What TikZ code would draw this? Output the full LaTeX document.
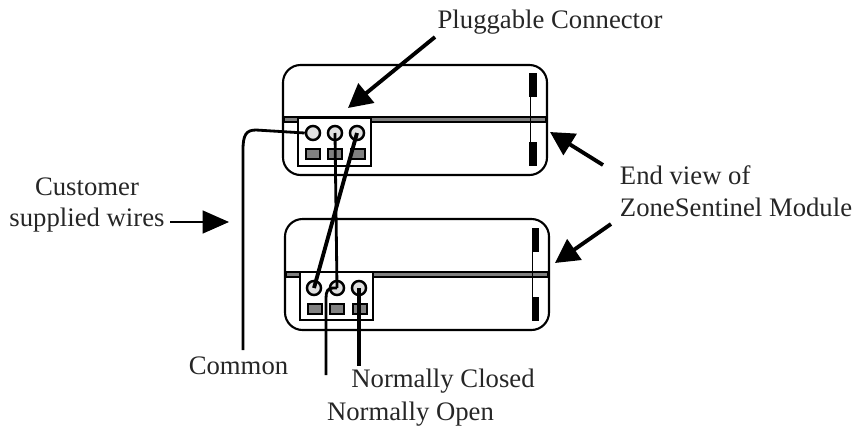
\documentclass[tikz,border=0pt]{standalone}
\usepackage{fontspec}
\setmainfont{Liberation Serif}
\usetikzlibrary{arrows.meta}
\tikzset{
	label/.style={font=\fontsize{15.2}{18.2}\selectfont,align=center,inner sep=0pt,text=black!85},
	pointer/.style={line width=2.2pt,-{Triangle[length=13.5pt,width=14pt]}},
	wire/.style={line width=1.6pt},
	heavywire/.style={line width=2.2pt},
	pin/.style={circle,draw,line width=1.4pt,fill=black!12,minimum size=8pt,inner sep=0pt},
	slot/.style={draw,line width=0.7pt,fill=black!50},
	bar/.style={fill=black}
}
\begin{document}
\begin{tikzpicture}[x=0.02cm,y=-0.02cm]
	\useasboundingbox (0,0) rectangle (854,426);

	% upper module
	\draw[line width=1.2pt,rounded corners=10pt] (283,65) rectangle (547,175);
	\draw[line width=1.1pt,fill=black!50] (284,117) rectangle (546,122);
	\draw[line width=0.4pt] (530,73) -- (530,166);
	\fill[bar] (529,73) rectangle (537,97);
	\fill[bar] (529,142) rectangle (537,166);
	\draw[line width=0.7pt,fill=white] (298,118) rectangle (371,166);
	\foreach \x/\name in {313/a,335/b,357/c}{
		\node[pin] (up\name) at (\x,133) {};
	}
	\foreach \x in {306,328,351}{
		\draw[slot] (\x,149) rectangle ++(14,10);
	}

	% lower module
	\draw[line width=1.2pt,rounded corners=10pt] (285,219) rectangle (549,330);
	\draw[line width=1.1pt,fill=black!50] (286,272) rectangle (548,277);
	\draw[line width=0.4pt] (532,228) -- (532,321);
	\fill[bar] (532,228) rectangle (539,252);
	\fill[bar] (532,297) rectangle (539,321);
	\draw[line width=0.7pt,fill=white] (300,272) rectangle (373,320);
	\foreach \x/\name in {314/a,337/b,359/c}{
		\node[pin] (lo\name) at (\x,288) {};
	}
	\foreach \x in {308,330,353}{
		\draw[slot] (\x,304) rectangle ++(14,10);
	}

	% wires
	\coordinate (common) at (243,350);
	\coordinate (open) at (326,375);
	\coordinate (closed) at (359,366);
	\draw[wire] (upa.west) -- (256,130) .. controls (246,130) and (243,135) .. (243,150) -- (common);
	\draw[wire] (upb.center) -- (lob.center);
	\draw[heavywire] (upc.center) -- (loa.center);
	\draw[wire] (lob.center) -- (333,288) .. controls (328,288) and (326,291) .. (326,298) -- (open);
	\draw[heavywire] (loc.center) -- (closed);

	% labels
	\node[label] (plug) at (550,22) {Pluggable Connector};
	\node[label,align=left] (endview) at (736,191) {End view of\\ZoneSentinel Module};
	\node[label] (cust) at (87,205) {Customer\\supplied wires};
	\node[label] (comm) at (238.5,366) {Common};
	\node[label] (nclosed) at (443,381) {Normally Closed};
	\node[label] (nopen) at (410.5,414) {Normally Open};

	% pointers
	\coordinate (plugtip) at (348,108);
	\coordinate (endtipa) at (550,132);
	\coordinate (endtipb) at (555,263);
	\coordinate (custtip) at (229,222);
	\draw[pointer] (435,37) -- (plugtip);
	\draw[pointer] (603,165) -- (endtipa);
	\draw[pointer] (611,224) -- (endtipb);
	\draw[pointer,line width=1.1pt,-{Triangle[length=15pt,width=13pt]}] (170,222) -- (custtip);
\end{tikzpicture}
\end{document}
